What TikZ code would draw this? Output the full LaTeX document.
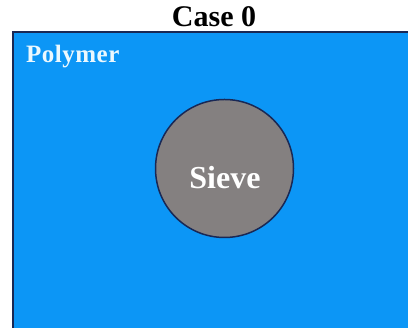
\documentclass[tikz,border=0pt]{standalone}
\usepackage{fontspec}
\setmainfont{Liberation Serif}
\definecolor{polyblue}{RGB}{12,150,246}
\definecolor{edgenavy}{RGB}{25,40,85}
\definecolor{sievegray}{RGB}{132,128,128}
\tikzset{
  lbl/.style={font=\bfseries, inner sep=0pt},
}
\begin{document}
\begin{tikzpicture}[x=1pt,y=1pt]
\useasboundingbox (0,0) rectangle (408,328);
\fill[white] (0,0) rectangle (408,328);
\begin{scope}
\clip (0,0) rectangle (408,328);
\node[draw=edgenavy, line width=2pt, fill=polyblue, inner sep=0pt, anchor=north west, minimum width=410pt, minimum height=310pt] (box) at (12,297) {};
\end{scope}
\node[circle, draw=edgenavy, line width=1.5pt, fill=sievegray, minimum size=138pt, inner sep=0pt] (sieve) at (224.5,159.5) {};
\node[lbl, text=white, font=\fontsize{32}{32}\selectfont\bfseries, anchor=base] (sievelbl) at (225,139) {Sieve};
\node[lbl, text=white!92!cyan, font=\fontsize{25}{25}\selectfont\bfseries, anchor=base west] (polylbl) at (26,265) {P\kern0.5pt o\kern0.5pt l\kern0.5pt y\kern0.5pt m\kern0.5pt e\kern0.5pt r};
\node[lbl, text=black, font=\fontsize{30}{30}\selectfont\bfseries, anchor=base] (title) at (214,301) {Case 0};
\end{tikzpicture}
\end{document}
